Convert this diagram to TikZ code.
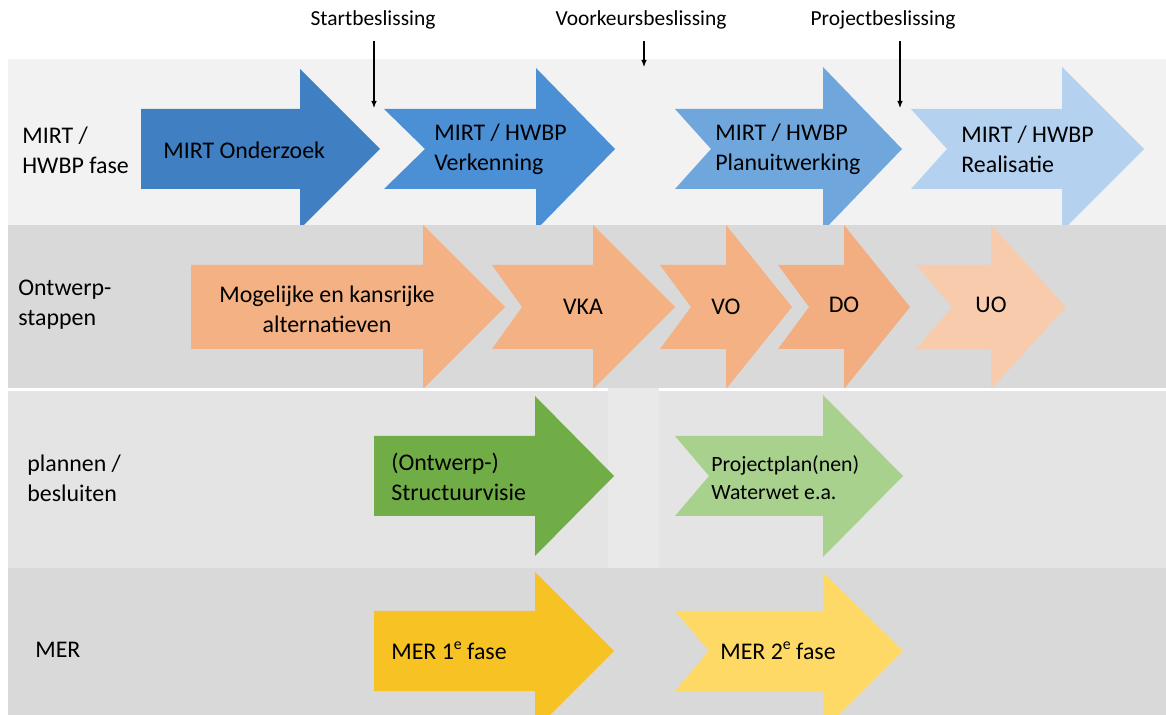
\documentclass[tikz,border=0pt]{standalone}
\usepackage{xcolor}
\usepackage{fontspec}
\setmainfont{Carlito}
\usetikzlibrary{arrows.meta}

\definecolor{bandlight}{HTML}{F2F2F2}
\definecolor{banddark}{HTML}{D9D9D9}
\definecolor{bandmid}{HTML}{E4E4E4}
\definecolor{bandgap}{HTML}{E9E9E9}
\definecolor{blueA}{HTML}{3F7FC2}
\definecolor{blueB}{HTML}{4B8FD5}
\definecolor{blueC}{HTML}{6FA7DC}
\definecolor{blueD}{HTML}{B4D1EF}
\definecolor{orangeA}{HTML}{F4B183}
\definecolor{orangeB}{HTML}{F2AE80}
\definecolor{orangeC}{HTML}{F8CBAD}
\definecolor{greenA}{HTML}{70AD47}
\definecolor{greenB}{HTML}{A9D18E}
\definecolor{yellowA}{HTML}{F7C224}
\definecolor{yellowB}{HTML}{FFD966}

% phase arrow: tail x, notch x, head base x, tip x, centre y, half body, half head, colour
\newcommand{\phasearrow}[8]{%
  \fill[#8] (#1,{#5-#6}) -- (#3,{#5-#6}) -- (#3,{#5-#7}) -- (#4,#5)
    -- (#3,{#5+#7}) -- (#3,{#5+#6}) -- (#1,{#5+#6}) -- (#2,#5) -- cycle;}
% small raised ordinal
\newcommand{\ordsup}[1]{\raisebox{0.42em}{\fontsize{9}{9}\selectfont #1}}

\tikzset{
  lbl/.style={font=\fontsize{13.6}{17}\selectfont, align=left, inner sep=0pt, anchor=west},
  lblc/.style={font=\fontsize{13.6}{17}\selectfont, align=center, inner sep=0pt},
  lblsmall/.style={font=\fontsize{12.4}{16}\selectfont, align=left, inner sep=0pt, anchor=west},
  declbl/.style={font=\fontsize{12.2}{14}\selectfont, inner sep=1pt},
  decarrow/.style={line width=0.6pt, -{Latex[length=1.4mm,width=1.1mm]}, shorten <=0.2cm}
}

\begin{document}
\begin{tikzpicture}[x=0.02cm, y=-0.02cm]
    \useasboundingbox (0,0) rectangle (1166,715);
    \clip (0,0) rectangle (1166,715);
    \fill[white] (0,0) rectangle (1166,715);

    % Row 1: MIRT / HWBP fase
    \fill[bandlight] (8,59) rectangle (1166,225);
    \phasearrow{141}{141}{300}{380}{149}{40}{80}{blueA}
    \phasearrow{384}{425}{536}{615}{149}{40}{81}{blueB}
    \phasearrow{675}{711}{823}{902}{149}{40}{82}{blueC}
    \phasearrow{911}{947}{1062}{1144}{149}{40}{82}{blueD}

    % Row 2: ontwerpstappen
    \fill[banddark] (8,225) rectangle (1166,388);
    \phasearrow{191}{191}{423}{505}{307}{42}{82}{orangeA}
    \phasearrow{492}{522}{593}{675}{307}{42}{82}{orangeA}
    \phasearrow{660}{691}{726}{792}{307}{42}{82}{orangeA}
    \phasearrow{778}{809}{844}{910}{307}{42}{82}{orangeB}
    \phasearrow{916}{952}{991}{1066}{307}{42}{82}{orangeC}

    % Row 3: plannen / besluiten
    \fill[white] (8,388) rectangle (1166,391);
    \fill[bandmid] (8,391) rectangle (1166,568);
    \fill[bandgap] (608,388) rectangle (659,568);
    \phasearrow{374}{374}{535}{614}{476}{40}{80}{greenA}
    \phasearrow{675}{709}{823}{903}{476}{40}{81}{greenB}

    % Row 4: MER
    \fill[banddark] (8,568) rectangle (1166,715);
    \phasearrow{374}{374}{535}{614}{651}{40}{79}{yellowA}
    \phasearrow{675}{709}{823}{903}{651}{40}{79}{yellowB}

    % Row labels
    \node[lbl] (lblmirt) at (22,150) {MIRT /\\HWBP fase};
    \node[lbl] (lblontwerp) at (18,305) {Ontwerp-\\stappen};
    \node[lbl] (lblplannen) at (27,478) {plannen /\\besluiten};
    \node[lbl] (lblmer) at (35,650) {MER};

    % Arrow texts
    \node[lbl] (onderzoek) at (163,150) {MIRT Onderzoek};
    \node[lbl] (verkenning) at (434,149) {MIRT / HWBP\\Verkenning};
    \node[lbl] (planuitw) at (715,149) {MIRT / HWBP\\Planuitwerking};
    \node[lbl] (realisatie) at (961,149) {MIRT / HWBP\\Realisatie};
    \node[lblc] (alternatieven) at (327,309) {Mogelijke en kansrijke\\alternatieven};
    \node[lblc] (vka) at (583,307) {VKA};
    \node[lblc] (vo) at (726,307) {VO};
    \node[lblc] (do) at (844,305) {DO};
    \node[lblc] (uo) at (991,305) {UO};
    \node[lbl] (structuurvisie) at (391,477) {(Ontwerp-)\\Structuurvisie};
    \node[lblsmall] (projectplan) at (711,478) {Projectplan(nen)\\Waterwet e.a.};
    \node[lbl] (merA) at (391,651) {MER 1\ordsup{e} fase};
    \node[lbl] (merB) at (720,651) {MER 2\ordsup{e} fase};

    % Decisions
    \node[declbl] (startb) at (373,20) {Startbeslissing};
    \node[declbl] (voorkeurb) at (641,20) {Voorkeursbeslissing};
    \node[declbl] (projectb) at (883,20) {Projectbeslissing};
    \coordinate (startbtip) at (374,108);
    \coordinate (voorkeurbtip) at (644,67);
    \coordinate (projectbtip) at (900,108);
    \draw[decarrow] (startb.south -| startbtip) -- (startbtip);
    \draw[decarrow] (voorkeurb.south -| voorkeurbtip) -- (voorkeurbtip);
    \draw[decarrow] (projectb.south -| projectbtip) -- (projectbtip);
\end{tikzpicture}
\end{document}
